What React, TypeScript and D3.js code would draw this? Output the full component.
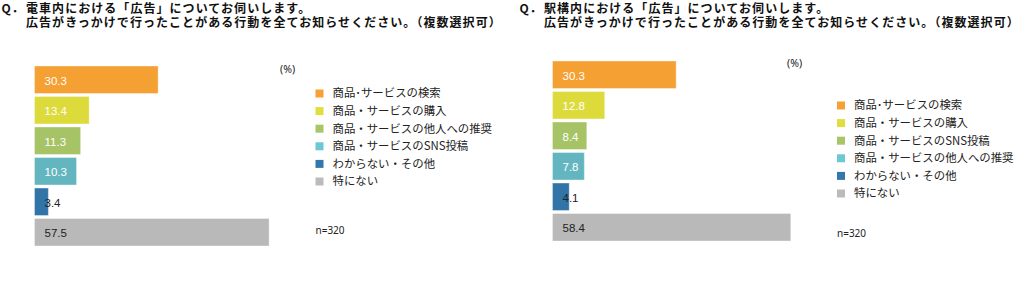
import React from "react";
import * as d3 from "d3";

const titleLine2 = "広告がきっかけで行ったことがある行動を全てお知らせください。（複数選択可）";
const titleTrain = "電車内における「広告」についてお伺いします。";
const titleStation = "駅構内における「広告」についてお伺いします。";

const categoriesTrain = [
  "商品･サービスの検索",
  "商品・サービスの購入",
  "商品・サービスの他人への推奨",
  "商品・サービスのSNS投稿",
  "わからない・その他",
  "特にない",
];
const valuesTrain = [30.3, 13.4, 11.3, 10.3, 3.4, 57.5];

const categoriesStation = [
  "商品･サービスの検索",
  "商品・サービスの購入",
  "商品・サービスのSNS投稿",
  "商品・サービスの他人への推奨",
  "わからない・その他",
  "特にない",
];
const valuesStation = [30.3, 12.8, 8.4, 7.8, 4.1, 58.4];

const barColors = ["#F4A033", "#DDDB3C", "#A6C366", "#63B6BF", "#3074A8", "#B9B9B9"];
const legendColors = ["#F6A035", "#E0DD3E", "#A8C668", "#6CC8D3", "#3378AC", "#BBBBBB"];
const labelColors = ["#fff", "#fff", "#fff", "#fff", "#222", "#222"];
const sampleLabel = "n=320";

const cjk = "'Noto Sans CJK JP', 'Noto Sans', sans-serif";

function Panel({ ox, top, legendX, legendTop, pctX, pctY, nY, title, cats, vals }: any) {
  const x = d3.scaleLinear().domain([0, 60]).range([0, 60 * 4.08]);
  const y = d3.scaleBand<string>().domain(cats).range([top, top + 180]).paddingInner(0.1).paddingOuter(0);
  const bw = y.bandwidth();
  const tProps = { fontFamily: cjk, fontWeight: "bold", fontSize: 12, letterSpacing: 1.05, fill: "#111" };
  return (
    <g>
      <text x={ox - 33} y={13.2} {...tProps}>Q．</text>
      <text x={ox - 8.5} y={13.2} {...tProps}>{title}</text>
      <text x={ox - 8.5} y={26.6} {...tProps}>{titleLine2}</text>
      {cats.map((c: string, i: number) => (
        <g key={c}>
          <rect x={ox + x(0)} y={y(c)} width={x(vals[i]) - x(0)} height={bw} fill={barColors[i]}
            stroke="#fff" strokeOpacity={0.35} strokeWidth={1} />
          <text x={ox + 10} y={(y(c) as number) + bw / 2 + 1} dy="0.35em" fontFamily="'Liberation Sans', Arial, sans-serif"
            fontSize={11.5} fill={labelColors[i]}>{vals[i].toFixed(1)}</text>
        </g>
      ))}
      <text x={pctX} y={pctY} dy="0.35em" fontFamily="'Noto Sans', sans-serif" fontSize={10.5} fill="#222">(%)</text>
      {cats.map((c: string, i: number) => (
        <g key={"l" + c}>
          <rect x={legendX} y={legendTop + i * 17.6 - 4} width={8} height={8} fill={legendColors[i]} />
          <text x={legendX + 17} y={legendTop + i * 17.6} dy="0.35em" fontFamily={cjk} fontSize={11.4} fill="#222">{c}</text>
        </g>
      ))}
      <text x={legendX} y={nY} dy="0.35em" fontFamily="'Noto Sans', sans-serif" fontSize={10} fill="#222">{sampleLabel}</text>
    </g>
  );
}

export default function App() {
  return (
    <svg width={1024} height={287} style={{ position: "absolute", left: 0, top: 0, background: "#fff" }}>
      <rect width={1024} height={287} fill="#fff" />
      <Panel ox={34.5} top={66} legendX={315.5} legendTop={93.5} pctX={280} pctY={69} nY={230.7}
        title={titleTrain} cats={categoriesTrain} vals={valuesTrain} />
      <Panel ox={552.5} top={61} legendX={837} legendTop={105.5} pctX={787} pctY={63} nY={233.3}
        title={titleStation} cats={categoriesStation} vals={valuesStation} />
    </svg>
  );
}
